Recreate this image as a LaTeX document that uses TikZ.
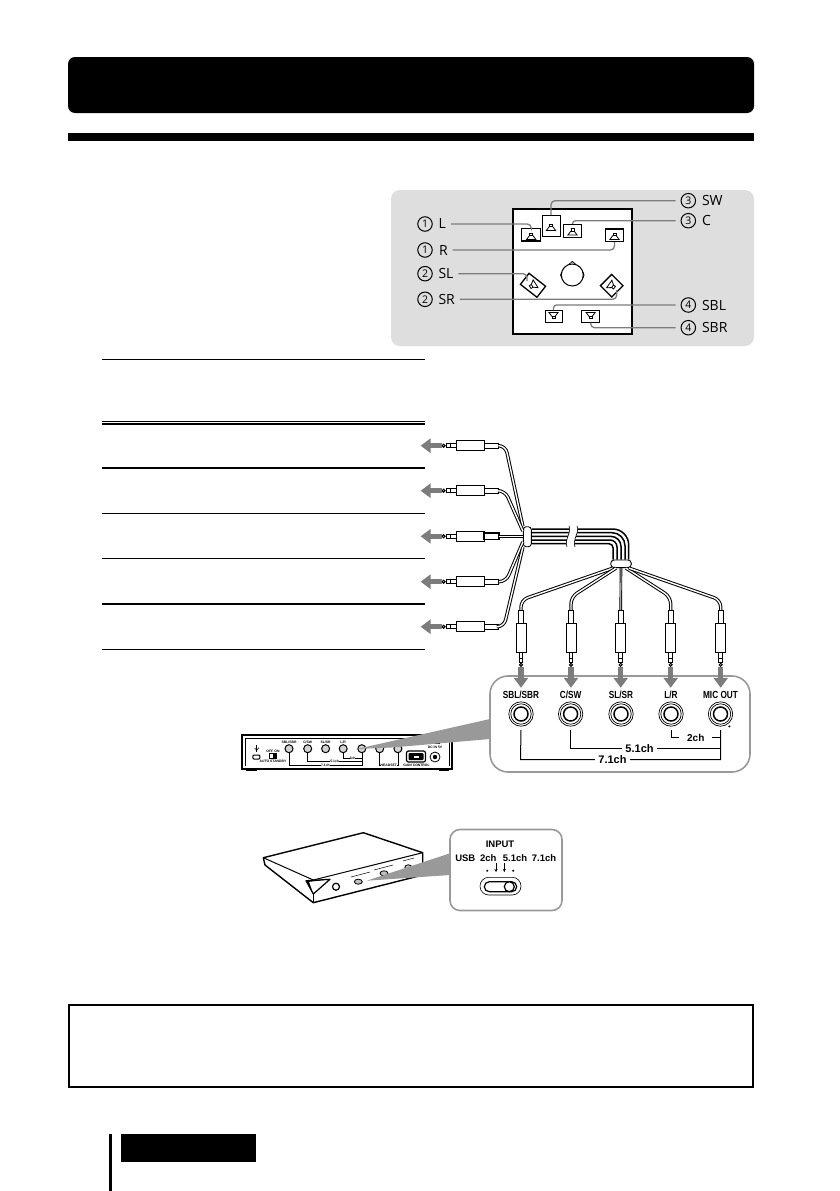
\documentclass[tikz,border=0pt]{standalone}
\usepackage{fontspec}
\usetikzlibrary{arrows.meta,shapes.geometric}
\newfontfamily\spkfont{Open Sans}
\newfontfamily\jackfont[FakeStretch=0.8]{Liberation Sans}
\newfontfamily\switchfont{Liberation Sans}
\definecolor{panelgrey}{HTML}{DEDEDE}
\definecolor{leadgrey}{HTML}{7C7C7C}
\definecolor{wedgegrey}{HTML}{999999}
\tikzset{
	spkbox/.style={draw,fill=white,line width=1pt,inner sep=0pt},
	spknum/.style={circle,draw,line width=1pt,inner sep=0pt,minimum size=14.5pt,outer sep=5.5pt,font=\spkfont\fontsize{10.5}{10}\selectfont},
	spktext/.style={anchor=west,inner sep=0pt,outer sep=5pt,font=\spkfont\fontsize{14}{14}\selectfont},
	leader/.style={color=leadgrey,line width=1.3pt,rounded corners=4pt},
	rowrule/.style={line width=1pt},
	rowthick/.style={line width=2pt},
	plugpart/.style={draw,fill=white,line width=.9pt,inner sep=0pt},
	cable/.style={line width=1pt,double=white,double distance=1.4pt,rounded corners=7pt},
	bundle/.style={line width=1.5pt},
	clipband/.style={draw,fill=white,line width=.9pt,inner sep=0pt,rounded corners=3pt},
	greyarrow/.style={color=leadgrey,line width=5.5pt,-{Triangle[width=14pt,length=10pt]}},
	zoombox/.style={draw=wedgegrey,fill=white,line width=1.6pt},
	jacktext/.style={inner sep=0pt,font=\jackfont\bfseries\fontsize{10.3}{11}\selectfont},
	jackhole/.style={circle,draw,line width=1.5pt,minimum size=14pt,inner sep=0pt,outer sep=9pt},
	bracket/.style={line width=1pt},
	chtext/.style={fill=white,inner ysep=1pt,inner xsep=3.5pt,font=\switchfont\bfseries\fontsize{11}{11}\selectfont},
	devjack/.style={circle,draw,fill=gray!35,line width=1pt,minimum size=8pt,inner sep=0pt},
	devtext/.style={inner sep=0pt,font=\switchfont\bfseries\fontsize{3.4}{4}\selectfont},
	devline/.style={line width=.5pt},
	inputtext/.style={inner sep=0pt,font=\switchfont\bfseries\fontsize{9.5}{10}\selectfont},
	spkicon/.pic={
		\draw[line width=.8pt] (-1.6,-3.4) rectangle (1.6,-1);
		\draw[line width=.8pt] (-1.6,-1) -- (-4.6,3) -- (4.6,3) -- (1.6,-1);
	}
}
\newcommand{\plugH}[2]{
	\node[plugpart,minimum width=28pt,minimum height=10pt] (bar#1) at (470.5,#2) {};
	\node[plugpart,minimum width=13.6pt,minimum height=5.4pt] (col#1) at (491.5,#2) {};
	\node[plugpart,minimum width=6pt,minimum height=3.6pt] (neck#1) at (453.2,#2) {};
	\node[plugpart,minimum width=4pt,minimum height=3.6pt] (ring#1) at (448.2,#2) {};
	\node[plugpart,line width=1pt,circle,minimum size=3pt] (tip#1) at (443.6,#2) {};
}
\newcommand{\plugV}[2]{
	\node[plugpart,minimum width=10pt,minimum height=28.6pt] (bar#1) at (#2,638) {};
	\node[plugpart,minimum width=5.4pt,minimum height=13.4pt] (col#1) at (#2,617) {};
	\node[plugpart,minimum width=3.6pt,minimum height=6pt] (neck#1) at (#2,655.3) {};
	\node[plugpart,minimum width=3.6pt,minimum height=4pt] (ring#1) at (#2,660.3) {};
	\node[plugpart,line width=1pt,circle,minimum size=3pt] (tip#1) at (#2,664.8) {};
}
\newcommand{\bigjack}[3]{
	\node[jacktext] (lab#1) at (#2,695.3) {#3};
	\draw[line width=.7pt] (#2,714) circle[radius=12.2pt];
	\draw[line width=.7pt] (#2,714) circle[radius=10.2pt];
	\node[jackhole] (jack#1) at (#2,714) {};
}
\begin{document}
\begin{tikzpicture}[x=1pt,y=-1pt]
	\useasboundingbox (0,0) rectangle (839,1191);
	\fill[white] (0,0) rectangle (839,1191);

	\fill[rounded corners=7pt] (68,57) rectangle (754,113);
	\fill (68,133) rectangle (754,141);
	\draw[line width=2pt] (69,1005) rectangle (753,1087);
	\fill (109,1134) rectangle (112,1191);
	\fill (121,1134) rectangle (256,1162);

	\fill[panelgrey,rounded corners=9pt] (391,190) rectangle (754,346);
	\draw[fill=white,line width=1.2pt] (513,209) rectangle (632,334);

	\node[spkbox,line width=1.3pt,minimum width=19pt,minimum height=12.6pt] (spkL) at (531.2,234.6) {};
	\node[spkbox,minimum width=18pt,minimum height=21pt] (spkSW) at (551,226.2) {};
	\node[spkbox,minimum width=17.6pt,minimum height=13pt] (spkC) at (572.5,230.8) {};
	\node[spkbox,line width=1.3pt,minimum width=17.6pt,minimum height=12.4pt] (spkR) at (614.5,235.2) {};
	\node[spkbox,line width=1.3pt,minimum width=21pt,minimum height=14pt,rotate=-38] (spkSL) at (533,285.3) {};
	\node[spkbox,line width=1.3pt,minimum width=16pt,minimum height=16pt,rotate=45] (spkSR) at (611.7,285.7) {};
	\node[spkbox,minimum width=17pt,minimum height=11.4pt] (spkSBL) at (553.5,316.4) {};
	\node[spkbox,minimum width=18.6pt,minimum height=11.4pt] (spkSBR) at (590.6,316.4) {};
	\coordinate (inSL) at (527,281);
	\coordinate (inSR) at (616.7,290);

	\draw[line width=1pt] (572.3,275) circle[radius=11pt];
	\draw[line width=.8pt] (568.5,264.6) -- (572.3,261.5) -- (576.1,264.6);
	\draw[line width=.8pt] (561.6,272) -- (560.6,275) -- (561.6,278);
	\draw[line width=.8pt] (583,272) -- (584,275) -- (583,278);

	\node[spknum] (numL) at (425,224) {1};
	\node[spktext] (txtL) at (433.5,224) {L};
	\node[spknum] (numR) at (425,250) {1};
	\node[spktext] (txtR) at (434,250) {R};
	\node[spknum] (numSL) at (425,273.7) {2};
	\node[spktext] (txtSL) at (433.5,273.7) {SL};
	\node[spknum] (numSRb) at (425,299.3) {2};
	\node[spktext] (txtSRb) at (433.5,299.3) {SR};
	\node[spknum] (numSW) at (688.3,200.7) {3};
	\node[spktext] (txtSW) at (697,200.7) {SW};
	\node[spknum] (numC) at (688.3,220.7) {3};
	\node[spktext] (txtC) at (697,220.7) {C};
	\node[spknum] (numSBL) at (688.3,305) {4};
	\node[spktext] (txtSBL) at (697,305) {SBL};
	\node[spknum] (numSBR) at (688.3,327.7) {4};
	\node[spktext] (txtSBR) at (697,327.7) {SBR};

	\draw[leader] (txtL.east) -| (spkL.north);
	\draw[leader] (txtR.east) -| (spkR.south);
	\draw[leader] (txtSL.east) -| (inSL);
	\draw[leader] (txtSRb.east) -| (inSR);
	\draw[leader] (numSW.west) -| (spkSW.north);
	\draw[leader,rounded corners=3pt] (numC.west) -| (spkC.north);
	\draw[leader,rounded corners=3pt] (numSBL.west) -| (spkSBL.north);
	\draw[leader] (numSBR.west) -| (spkSBR.south);

	\pic at (531.2,236.4) {spkicon};
	\pic at (551,227.4) {spkicon};
	\pic at (572.5,232) {spkicon};
	\pic at (614.5,236.4) {spkicon};
	\pic[rotate=122] at (533,285.3) {spkicon};
	\pic[rotate=-125] at (611.7,285.7) {spkicon};
	\pic[rotate=180] at (553.5,315.4) {spkicon};
	\pic[rotate=180] at (590.6,315.4) {spkicon};

	\draw[rowrule] (102,359.3) -- (425,359.3);
	\draw[rowrule] (102,421.3) -- (425,421.3);
	\draw[rowthick] (102,424) -- (425,424);
	\draw[rowthick] (102,468) -- (425,468);
	\draw[rowrule] (102,513.3) -- (425,513.3);
	\draw[rowrule] (102,558.3) -- (425,558.3);
	\draw[rowthick] (102,604) -- (425,604);
	\draw[rowrule] (102,649) -- (425,649);

	\node[clipband,minimum width=8pt,minimum height=20pt] (clipL) at (527.3,536.7) {};
	\node[clipband,minimum width=20.6pt,minimum height=7.7pt,rounded corners=3.5pt] (clipR) at (621,563.8) {};

	\plugH{A}{445.7}
	\plugH{B}{490.7}
	\plugH{C}{536.3}
	\plugH{D}{581.7}
	\plugH{E}{626.7}
	\plugV{F}{521}
	\plugV{G}{571}
	\plugV{H}{620.7}
	\plugV{I}{670.7}
	\plugV{J}{720.7}
	\draw[line width=1.6pt] (colC.south west) rectangle (colC.north east);

	\draw[cable] (colA.east) -- (505.5,445.7) -- (clipL.north west);
	\draw[cable] (colB.east) -- (505,490.7) -- (clipL.west |- 0,531);
	\draw[line width=.8pt,double=white,double distance=1.2pt] (colC.east) -- (clipL.west |- colC.east);
	\draw[cable] (colD.east) -- (506,581.7) -- (clipL.west |- 0,542);
	\draw[cable] (colE.east) -- (504,626.7) -- (clipL.south west);

	\draw[bundle,rounded corners=16pt] (clipL.east |- 0,529) -- (628.7,529) -- (628.7,0 |- clipR.north);
	\draw[bundle,rounded corners=13pt] (clipL.east |- 0,532.7) -- (625,532.7) -- (625,0 |- clipR.north);
	\draw[bundle,rounded corners=10pt] (clipL.east |- 0,536.4) -- (621,536.4) -- (621,0 |- clipR.north);
	\draw[bundle,rounded corners=7pt] (clipL.east |- 0,540) -- (617,540) -- (617,0 |- clipR.north);
	\draw[bundle,rounded corners=4pt] (clipL.east |- 0,543.7) -- (613,543.7) -- (613,0 |- clipR.north);
	\fill[white] (569,524) .. controls (572,532) and (564,540) .. (567,549) -- (575,549) .. controls (572,540) and (580,532) .. (577,524) -- cycle;
	\draw[line width=.6pt] (569,526) .. controls (572,532) and (564,540) .. (567,547);
	\draw[line width=.6pt] (577,526) .. controls (580,532) and (572,540) .. (575,547);

	\draw[cable] (613,0 |- clipR.south) -- (521,600) -- (colF.north);
	\draw[cable] (616,0 |- clipR.south) -- (571,597) -- (colG.north);
	\draw[line width=.9pt,double=white,double distance=.8pt] (clipR.south) -- (colH.north);
	\draw[cable] (626,0 |- clipR.south) -- (670.7,597) -- (colI.north);
	\draw[cable] (629,0 |- clipR.south) -- (720.7,600) -- (colJ.north);

	\draw[greyarrow] (tipA.west) -- +(-21,0);
	\draw[greyarrow] (tipB.west) -- +(-21,0);
	\draw[greyarrow] (tipC.west) -- +(-21,0);
	\draw[greyarrow] (tipD.west) -- +(-21,0);
	\draw[greyarrow] (tipE.west) -- +(-21,0);

	\draw[line width=1.8pt,fill=white] (242,735) rectangle (452,769);
	\draw[line width=.5pt] (245,766) -- (245,738) -- (449,738) -- (449,766);
	\fill (246,769) rectangle (257,771);
	\fill (439,769) rectangle (449,771);
	\node[devjack] (devA) at (289,748.7) {};
	\node[devjack] (devB) at (307.7,748.7) {};
	\node[devjack] (devC) at (325.6,748.7) {};
	\node[devjack] (devD) at (343.2,748.7) {};
	\node[devjack] (devE) at (361.8,748.7) {};
	\node[devjack] (devF) at (379.7,748.7) {};
	\node[devjack] (devG) at (397.9,748.7) {};
	\node[devtext] (devlabA) at (289,742) {SBL/SBR};
	\node[devtext] (devlabB) at (307.7,742) {C/SW};
	\node[devtext] (devlabC) at (325.6,742) {SL/SR};
	\node[devtext] (devlabD) at (343.2,742) {L/R};
	\draw[devline] (devA.south) -- (289,765.5) -- node[devtext,fill=white] (dev71) {7.1ch} (361.8,765.5) -- (devE.south);
	\draw[devline] (devB.south) -- (307.7,761.7) -- node[devtext,fill=white] (dev51) {5.1ch} (361.8,761.7) -- (devE.south);
	\draw[devline] (devD.south) -- (343.2,758) -- node[devtext,fill=white] (dev2) {2ch} (361.8,758) -- (devE.south);
	\draw[devline] (devF.south) -- (379.7,765) -- node[devtext,fill=white] (devhs) {HEADSET} (397.9,765) -- (devG.south);
	\node[draw,fill=white,line width=1pt,rounded corners=1pt,minimum width=7pt,minimum height=4pt,inner sep=0pt] (devport) at (256.4,757) {};
	\draw[line width=.8pt] (256.8,745) -- (256.8,752);
	\draw[line width=.6pt] (254.6,748) -- (256.8,750.4) -- (259,747.5);
	\node[devtext] (devonoff) at (273,751) {OFF\,\,ON};
	\node[draw,fill=white,line width=.7pt,minimum width=7.5pt,minimum height=5pt,inner sep=0pt] (devsw) at (273,755.8) {};
	\fill (273,753.3) rectangle (276.7,758.3);
	\node[devtext] (devauto) at (273,761.4) {AUTO STANDBY};
	\node[draw,fill=white,line width=1.2pt,rounded corners=2pt,minimum width=19pt,minimum height=11pt,inner sep=0pt] (devgain) at (416,756.5) {};
	\fill[rounded corners=1pt] (408.5,753) rectangle (423.5,760);
	\fill[white] (413.5,755.5) rectangle (418.5,757.5);
	\node[devtext] (devgaintxt) at (416.5,765.6) {GAIN CONTROL};
	\node[devjack,minimum size=10pt,fill=white,line width=.8pt] (devdc) at (435,757) {};
	\fill (435,757) circle[radius=2.2pt];
	\node[devtext] (devdctxt) at (435,747.6) {DC IN 5V};
	\draw[line width=.6pt] (430,743.6) -- (440,743.6);

	\fill[wedgegrey] (356.7,749) -- (490,719) -- (490,739) -- (392,747.5) -- cycle;

	\node[zoombox,rounded corners=18pt,minimum width=260pt,minimum height=96pt,inner sep=0pt] (zoomjack) at (620,724) {};
	\draw[greyarrow] (tipF.south) -- +(0,21);
	\draw[greyarrow] (tipG.south) -- +(0,21);
	\draw[greyarrow] (tipH.south) -- +(0,21);
	\draw[greyarrow] (tipI.south) -- +(0,21);
	\draw[greyarrow] (tipJ.south) -- +(0,21);
	\bigjack{A}{521}{SBL/SBR}
	\bigjack{B}{570.6}{C/SW}
	\bigjack{C}{621}{SL/SR}
	\bigjack{D}{671}{L/R}
	\bigjack{E}{720.5}{MIC OUT}
	\fill (729.3,726.4) circle[radius=1.1pt];
	\draw[bracket] (jackA.south) -- (520.5,759.5) -- node[chtext,pos=.46] (lab71) {7.1ch} (720.5,759.5) -- (jackE.south);
	\draw[bracket] (jackB.south) -- (570.6,748.4) -- node[chtext,pos=.46] (lab51) {5.1ch} (720.5,748.4) -- (jackE.south);
	\draw[bracket] (jackD.south) -- (671,737.6) -- node[chtext,inner xsep=8pt,font=\switchfont\bfseries\fontsize{10}{10}\selectfont] (lab2) {2ch} (720.5,737.6) -- (jackE.south);

	\draw[line width=1.4pt,fill=white,line join=round] (263.3,857.7) -- (363.3,832.7) -- (422.7,852.7) -- (422.7,875) -- (313.3,902.7) -- (265,865) -- cycle;
	\draw[line width=1pt] (263.3,857.7) -- (313.3,880) -- (422.7,852.7);
	\draw[line width=1pt] (313.3,880) -- (313.3,902.7);
	\draw[line width=1.2pt,fill=white,line join=round] (306,880.7) -- (330,879.3) -- (313.3,894) -- cycle;
	\fill (306,880.7) -- (330,879.3) -- (325,880) -- (309,881.8) -- (313.3,894) -- cycle;
	\node[circle,draw,line width=1.2pt,minimum size=7pt,inner sep=0pt] (knob) at (336,886.7) {};
	\node[ellipse,draw,fill=gray!50,line width=.8pt,minimum width=8pt,minimum height=5pt,inner sep=0pt] (swA) at (358.3,881.7) {};
	\node[ellipse,draw,fill=gray!50,line width=.8pt,minimum width=8pt,minimum height=5pt,inner sep=0pt] (swB) at (384,873.3) {};
	\node[ellipse,draw,fill=gray!50,line width=.8pt,minimum width=7pt,minimum height=5pt,inner sep=0pt] (swC) at (408.3,867.3) {};
	\draw[line width=.5pt] (351,877) -- (370,872);
	\draw[line width=.5pt] (374,870) -- (393,865);
	\draw[line width=.5pt] (403,861) -- (414,858);

	\fill[wedgegrey] (366.7,880.7) -- (450,853.3) -- (450,875) -- cycle;
	\node[zoombox,rounded corners=10pt,minimum width=112pt,minimum height=81pt,inner sep=0pt] (zoomswitch) at (506,870) {};
	\node[inputtext] (txtInput) at (500,844.3) {INPUT};
	\node[inputtext] (txtUsb) at (465.3,858.3) {USB};
	\node[inputtext] (txtTwo) at (488.3,858.3) {2ch};
	\node[inputtext] (txtFive) at (515,858.3) {5.1ch};
	\node[inputtext] (txtSeven) at (544,858.3) {7.1ch};
	\fill (487.3,870.7) circle[radius=1.1pt];
	\fill (513.3,870.7) circle[radius=1.1pt];
	\draw[-{Stealth[length=3pt,width=3pt]},line width=.7pt] (496,863) -- (496,872);
	\draw[-{Stealth[length=3pt,width=3pt]},line width=.7pt] (504.3,863) -- (504.3,872);
	\draw[line width=.6pt,rounded corners=8.8pt] (480,877.3) rectangle (521,895);
	\draw[line width=1.2pt,rounded corners=5pt] (484.3,881.7) rectangle (516.7,891.7);
	\draw[line width=1.2pt,fill=white] (509.3,886.7) circle[radius=5pt];
\end{tikzpicture}
\end{document}
